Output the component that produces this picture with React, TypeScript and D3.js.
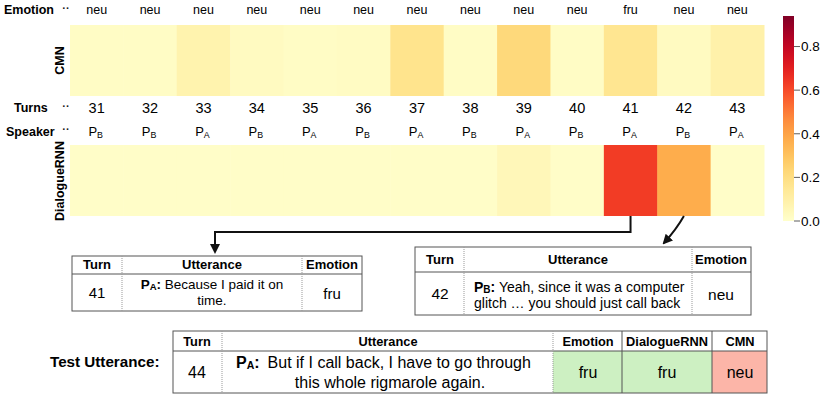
import React from "react"
import * as d3 from "d3"

const turns = [31, 32, 33, 34, 35, 36, 37, 38, 39, 40, 41, 42, 43]
const emotions = ["neu", "neu", "neu", "neu", "neu", "neu", "neu", "neu", "neu", "neu", "fru", "neu", "neu"]
const speakers = ["B", "B", "A", "B", "A", "B", "A", "B", "A", "B", "A", "B", "A"]
const cmnValues = [0.02, 0.02, 0.08, 0.03, 0.02, 0.025, 0.17, 0.02, 0.22, 0.02, 0.16, 0.03, 0.09]
const rnnValues = [0.01, 0.01, 0.01, 0.01, 0.01, 0.01, 0.01, 0.01, 0.05, 0.01, 0.63, 0.37, 0.01]
const colorTicks = [0, 0.2, 0.4, 0.6, 0.8]

const FONT = "Liberation Sans, Arial, Helvetica, sans-serif"

const Sp = ({ x, y, who, size = 13 }: { x: number; y: number; who: string; size?: number }) => (
  <text x={x} y={y} textAnchor="middle" fontSize={size}>
    P<tspan fontSize={size * 0.68} dy={2}>{who}</tspan>
  </text>
)

const App = () => {
  const width = 830
  const height = 399

  const x = d3.scaleBand<number>().domain(turns).range([70, 764])
  const bw = x.bandwidth()
  const cx = (t: number) => (x(t) as number) + bw / 2
  const color = d3.scaleSequential(d3.interpolateYlOrRd).domain([0, 0.94])

  const cmnRow = { y: 25, h: 71 }
  const rnnRow = { y: 145, h: 71 }

  // colorbar
  const cb = { x: 783, w: 11 }
  const cbY = d3.scaleLinear().domain([0, 0.94]).range([221, 16])
  const stops = d3.range(0, 1.0001, 0.05)

  const dashed = { stroke: "#999", strokeDasharray: "1,1", strokeWidth: 1 }
  const border = { stroke: "#555", strokeWidth: 1, fill: "none" }

  const a1x = cx(41)
  const a2x = cx(42)

  return (
    <svg width={width} height={height} style={{ position: "absolute", left: 0, top: 0, fontFamily: FONT }}>
      <defs>
        <linearGradient id="cbg" x1="0" y1="1" x2="0" y2="0">
          {stops.map((s) => (
            <stop key={s} offset={s} stopColor={color(s * 0.94)} />
          ))}
        </linearGradient>
        <marker id="ah" viewBox="0 0 10 10" refX="8" refY="5" markerWidth="5" markerHeight="5" orient="auto">
          <path d="M0,0 L10,5 L0,10 z" fill="#111" />
        </marker>
      </defs>

      {/* row labels */}
      <g fontWeight="bold" fontSize={12.5}>
        <text x={4} y={14}>Emotion</text>
        <text x={14} y={112}>Turns</text>
        <text x={6} y={136}>Speaker</text>
        <text transform={`translate(64,${cmnRow.y + cmnRow.h / 2}) rotate(-90)`} textAnchor="middle">CMN</text>
        <text transform={`translate(64,${rnnRow.y + 36}) rotate(-90)`} textAnchor="middle">DialogueRNN</text>
      </g>
      <g fontSize={11} fill="#222" fontWeight="bold">
        {[12, 110, 133].map((yy) => (
          <text key={yy} x={66} y={yy} textAnchor="middle">··</text>
        ))}
      </g>

      {/* emotion row */}
      {turns.map((t, i) => (
        <text key={"e" + t} x={cx(t)} y={14} textAnchor="middle" fontSize={12.5}>{emotions[i]}</text>
      ))}

      {/* CMN heat row */}
      {turns.map((t, i) => (
        <rect key={"c" + t} x={x(t)} y={cmnRow.y} width={bw + 0.5} height={cmnRow.h} fill={color(cmnValues[i])} />
      ))}

      {/* turns row */}
      {turns.map((t) => (
        <text key={"t" + t} x={cx(t)} y={113} textAnchor="middle" fontSize={14.5}>{t}</text>
      ))}

      {/* speaker row */}
      {turns.map((t, i) => (
        <Sp key={"s" + t} x={cx(t) - 1} y={136} who={speakers[i]} />
      ))}

      {/* DialogueRNN heat row */}
      {turns.map((t, i) => (
        <rect key={"r" + t} x={x(t)} y={rnnRow.y} width={bw + 0.5} height={rnnRow.h} fill={color(rnnValues[i])} />
      ))}

      {/* colorbar */}
      <rect x={cb.x} y={16} width={cb.w} height={205} fill="url(#cbg)" />
      {colorTicks.map((v) => (
        <g key={v} transform={`translate(${cb.x + cb.w},${cbY(v)})`}>
          <line x1={0} x2={6} stroke="#333" strokeWidth={0.8} />
          <text x={7} dy="0.35em" fontSize={13.5}>{d3.format(".1f")(v)}</text>
        </g>
      ))}

      {/* arrows */}
      <path d={`M${a1x},${rnnRow.y + rnnRow.h} V232 H215 V252`} fill="none" stroke="#111" strokeWidth={2} markerEnd="url(#ah)" />
      <path d={`M${a2x},${rnnRow.y + rnnRow.h} Q${a2x - 8},230 ${a2x - 20},243`} fill="none" stroke="#111" strokeWidth={2} markerEnd="url(#ah)" />

      {/* table 1 */}
      <g fontSize={13.5}>
        <rect x={72} y={256} width={290} height={55} {...border} />
        <line x1={72} x2={362} y1={274} y2={274} stroke="#555" />
        <line x1={122} x2={122} y1={256} y2={311} {...dashed} />
        <line x1={302} x2={302} y1={256} y2={311} {...dashed} />
        <g fontWeight="bold" textAnchor="middle" fontSize={13}>
          <text x={97} y={269}>Turn</text>
          <text x={212} y={269}>Utterance</text>
          <text x={332} y={269}>Emotion</text>
        </g>
        <text x={97} y={298} textAnchor="middle" fontSize={15}>41</text>
        <text x={212} y={289} textAnchor="middle">
          <tspan fontWeight="bold">P<tspan fontSize={9.5} dy={1}>A</tspan><tspan dy={-1}>:</tspan></tspan> Because I paid it on
        </text>
        <text x={212} y={305} textAnchor="middle">time.</text>
        <text x={332} y={299} textAnchor="middle" fontSize={15}>fru</text>
      </g>

      {/* table 2 */}
      <g fontSize={14}>
        <rect x={415} y={247} width={336} height={68} {...border} />
        <line x1={415} x2={751} y1={272} y2={272} stroke="#555" />
        <line x1={464} x2={464} y1={247} y2={315} {...dashed} />
        <line x1={692} x2={692} y1={247} y2={315} {...dashed} />
        <g fontWeight="bold" textAnchor="middle" fontSize={13}>
          <text x={440} y={264}>Turn</text>
          <text x={578} y={264}>Utterance</text>
          <text x={721} y={264}>Emotion</text>
        </g>
        <text x={440} y={299} textAnchor="middle" fontSize={15.5}>42</text>
        <text x={474} y={292}>
          <tspan fontWeight="bold">P<tspan fontSize={10} dy={1}>B</tspan><tspan dy={-1}>:</tspan></tspan> Yeah, since it was a computer
        </text>
        <text x={474} y={308}>glitch … you should just call back</text>
        <text x={721} y={300} textAnchor="middle" fontSize={15.5}>neu</text>
      </g>

      {/* table 3 */}
      <text x={50} y={367} fontWeight="bold" fontSize={15.2}>Test Utterance:</text>
      <g fontSize={16}>
        <rect x={553} y={351} width={69} height={42} fill="#cdf0c2" />
        <rect x={622} y={351} width={90} height={42} fill="#cdf0c2" />
        <rect x={712} y={351} width={55} height={42} fill="#fcb5a8" />
        <rect x={173} y={331} width={594} height={62} {...border} />
        <line x1={173} x2={767} y1={351} y2={351} stroke="#555" />
        <line x1={222} x2={222} y1={331} y2={393} {...dashed} />
        <line x1={553} x2={553} y1={331} y2={393} {...dashed} />
        <line x1={622} x2={622} y1={331} y2={393} stroke="#555" />
        <line x1={712} x2={712} y1={331} y2={393} stroke="#555" />
        <g fontWeight="bold" textAnchor="middle" fontSize={12.8}>
          <text x={197} y={346}>Turn</text>
          <text x={388} y={346}>Utterance</text>
          <text x={588} y={346}>Emotion</text>
          <text x={667} y={346}>DialogueRNN</text>
          <text x={740} y={346}>CMN</text>
        </g>
        <text x={197} y={378} textAnchor="middle">44</text>
        <text x={236} y={368}>
          <tspan fontWeight="bold">P<tspan fontSize={10.5} dy={1}>A</tspan><tspan dy={-1}>:</tspan></tspan>
          <tspan dx={8}>But if I call back, I have to go through</tspan>
        </text>
        <text x={390} y={388} textAnchor="middle">this whole rigmarole again.</text>
        <text x={588} y={378} textAnchor="middle">fru</text>
        <text x={667} y={378} textAnchor="middle">fru</text>
        <text x={740} y={378} textAnchor="middle">neu</text>
      </g>
    </svg>
  )
}

export default App
